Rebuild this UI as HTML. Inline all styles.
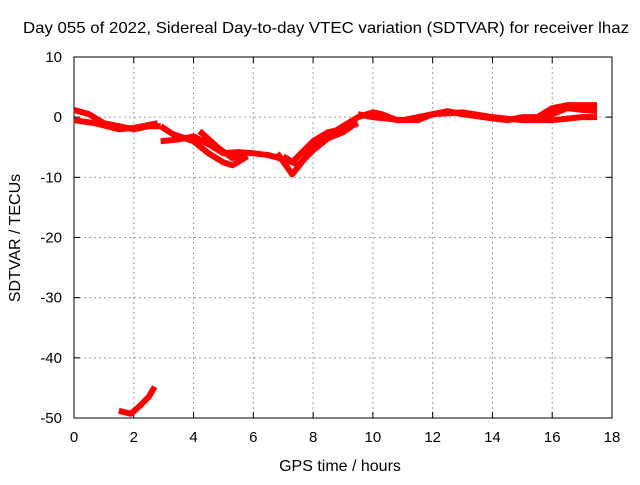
<!DOCTYPE html>
<html><head><meta charset="utf-8"><style>
body{margin:0;background:#fff}
svg text{font-family:"Liberation Sans",sans-serif;font-size:15px;fill:#000}
</style></head><body>
<svg id="chart" width="640" height="480">
<text x="326" y="33" text-anchor="middle" textLength="606" lengthAdjust="spacingAndGlyphs" style="font-size:16px">Day 055 of 2022, Sidereal Day-to-day VTEC variation (SDTVAR) for receiver lhaz</text>
<g id="grid"></g><g id="axes"></g><g id="series"></g>
<text x="340" y="471" text-anchor="middle" style="font-size:16px">GPS time / hours</text>
<text transform="translate(20,238) rotate(-90)" text-anchor="middle" style="font-size:16px">SDTVAR / TECUs</text>
</svg>
<script>
const xTicks=[0,2,4,6,8,10,12,14,16,18];
const yTicks=[10,0,-10,-20,-30,-40,-50];
const trackA=[[0,1.2],[0.5,0.5],[1,-1],[1.5,-1.5],[2,-2],[2.5,-1.5],[2.9,-1.5]];
const trackB=[[0,-0.5],[0.7,-1],[1.5,-2],[2,-1.8],[2.8,-1]];
const trackC=[[2.9,-4],[3.5,-3.7],[4,-3.2],[4.5,-4.5],[5,-6],[5.5,-5.8],[6,-6],[6.5,-6.3],[7,-7],[7.3,-7.5],[7.6,-6],[8,-4],[8.5,-2.5],[9,-2],[9.5,-1]];
const trackD=[[2.9,-1.5],[3.3,-2.8],[4,-4],[4.5,-6],[5,-7.5],[5.3,-8],[5.8,-6.5]];
const trackE=[[4.2,-2.3],[4.8,-5],[5.3,-6.8],[5.8,-6]];
const trackF=[[6.8,-6],[7.3,-9.5],[7.7,-7],[8.2,-4],[9,-1.5],[9.5,0],[10,0.8],[10.3,0.5],[10.8,-0.5],[11.5,-0.5],[12,0.5],[12.5,1],[13,0.5],[14,-0.2],[14.5,-0.5],[15,0],[15.5,0],[16,1.5],[16.5,2],[17,2],[17.5,2]];
const trackG=[[9.5,0.5],[10,0],[11,-0.5],[12,0.5],[13,0.8],[14,0],[15,-0.5],[16,-0.5],[17,0],[17.5,0]];
const trackH=[[7,-6.5],[7.5,-8],[8,-5.5],[8.5,-3.5],[9,-2.5],[9.3,-1.5]];
const trackI=[[15.5,-0.5],[16,0.5],[16.5,1.5],[17,1.2],[17.5,1]];
const outlier=[[1.5,-48.8],[1.9,-49.3],[2.2,-48],[2.5,-46.5],[2.7,-44.8]];
const X0=74,X1=612,Y0=418,Y1=57;
const sx=v=>X0+(v-0)/18*(X1-X0);
const sy=v=>Y0-(v+50)/60*(Y0-Y1);
const NS='http://www.w3.org/2000/svg';
function mk(t,a,p){const e=document.createElementNS(NS,t);for(const k in a)e.setAttribute(k,a[k]);p.appendChild(e);return e;}
const grid=document.getElementById('grid'),axes=document.getElementById('axes'),ser=document.getElementById('series');
xTicks.forEach(t=>{
 if(t>0&&t<18){const l=mk('line',{x1:sx(t),x2:sx(t),y1:Y1,y2:Y0,stroke:'#a0a0a0','stroke-dasharray':'2,3'},grid);
 
 }
 mk('line',{x1:sx(t),x2:sx(t),y1:Y0,y2:Y0-6,stroke:'#000'},axes);
 mk('line',{x1:sx(t),x2:sx(t),y1:Y1,y2:Y1+6,stroke:'#000'},axes);
 const tx=mk('text',{x:sx(t),y:Y0+24,'text-anchor':'middle'},axes);tx.textContent=t;
 
 
});
yTicks.forEach(t=>{
 if(t<10&&t>-50){const l=mk('line',{x1:X0,x2:X1,y1:sy(t),y2:sy(t),stroke:'#a0a0a0','stroke-dasharray':'2,3'},grid);
 
 }
 mk('line',{x1:X0,x2:X0+6,y1:sy(t),y2:sy(t),stroke:'#000'},axes);
 mk('line',{x1:X1,x2:X1-6,y1:sy(t),y2:sy(t),stroke:'#000'},axes);
 const tx=mk('text',{x:X0-12,y:sy(t)+5,'text-anchor':'end'},axes);tx.textContent=t;
 
 
});
const fr=mk('rect',{x:X0,y:Y1,width:X1-X0,height:Y0-Y1,fill:'none',stroke:'#000'},axes);


[trackA,trackB,trackC,trackD,trackE,trackF,trackG,trackH,trackI,outlier].forEach((s,i)=>{
 const p=mk('polyline',{points:s.map(d=>sx(d[0])+','+sy(d[1])).join(' '),fill:'none',stroke:'#ff0000','stroke-width':6,'stroke-linejoin':'round'},ser);
 
 
});
</script>
</body></html>
